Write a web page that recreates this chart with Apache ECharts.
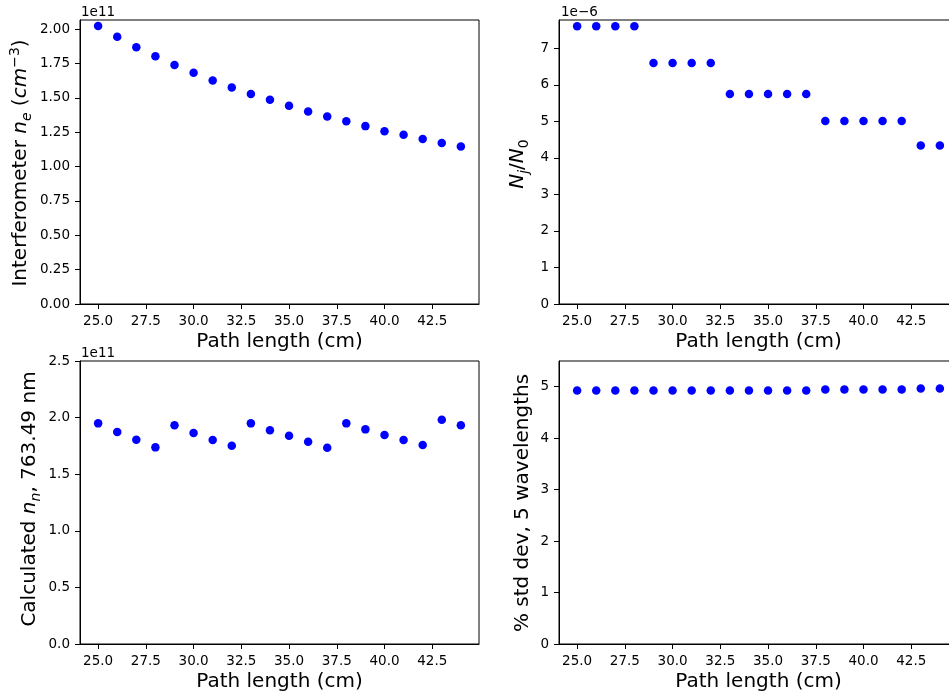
<!DOCTYPE html>
<html>
<head>
<meta charset="utf-8">
<script src="https://cdn.jsdelivr.net/npm/echarts@6/dist/echarts.min.js"></script>
<style>
html,body{margin:0;padding:0;background:#ffffff;}
#chart{width:949px;height:696px;}
</style>
</head>
<body>
<div id="chart"></div>
<script>
// ---------------- data ----------------
const pathLength = [25, 26, 27, 28, 29, 30, 31, 32, 33, 34, 35, 36, 37, 38, 39, 40, 41, 42, 43, 44];

const interferometerNe = [2.022e11, 1.944e11, 1.867e11, 1.803e11, 1.738e11, 1.682e11, 1.626e11, 1.575e11, 1.527e11, 1.485e11,
                          1.442e11, 1.400e11, 1.364e11, 1.330e11, 1.294e11, 1.257e11, 1.231e11, 1.201e11, 1.172e11, 1.146e11];

const ratioNjN0 = [7.61e-6, 7.61e-6, 7.61e-6, 7.61e-6, 6.60e-6, 6.60e-6, 6.60e-6, 6.60e-6, 5.75e-6, 5.75e-6,
                   5.75e-6, 5.75e-6, 5.75e-6, 5.01e-6, 5.01e-6, 5.01e-6, 5.01e-6, 5.01e-6, 4.34e-6, 4.34e-6];

const calculatedNn = [1.949e11, 1.873e11, 1.805e11, 1.737e11, 1.932e11, 1.864e11, 1.802e11, 1.752e11, 1.949e11, 1.888e11,
                      1.840e11, 1.787e11, 1.734e11, 1.949e11, 1.896e11, 1.846e11, 1.802e11, 1.758e11, 1.982e11, 1.932e11];

const stdDevPct = [4.925, 4.925, 4.925, 4.925, 4.925, 4.925, 4.925, 4.925, 4.925, 4.925,
                   4.925, 4.925, 4.925, 4.945, 4.945, 4.945, 4.945, 4.945, 4.965, 4.965];

// tick labels
const xTicks = [25, 27.5, 30, 32.5, 35, 37.5, 40, 42.5];
const neTicks = [0, 0.25e11, 0.5e11, 0.75e11, 1.0e11, 1.25e11, 1.5e11, 1.75e11, 2.0e11];
const ratioTicks = [0, 1e-6, 2e-6, 3e-6, 4e-6, 5e-6, 6e-6, 7e-6];
const nnTicks = [0, 0.5e11, 1.0e11, 1.5e11, 2.0e11, 2.5e11];
const stdTicks = [0, 1, 2, 3, 4, 5];

// ---------------- styling ----------------
const FONT = 'DejaVu Sans';
const TICK_FS = 13.5;
const LABEL_FS = 20;
const SUB_FS = 14;

const grids = [
  {left: 80,  top: 20,  width: 399, height: 284},
  {left: 559, top: 20,  width: 399, height: 284},
  {left: 80,  top: 361, width: 399, height: 283},
  {left: 559, top: 361, width: 399, height: 283}
];

function xAxisFor(i) {
  return {
    type: 'value', gridIndex: i, min: 24.05, max: 44.95,
    axisLine: {show: true, onZero: false, lineStyle: {color: '#000', width: 1}},
    axisTick: {show: true, inside: false, length: 5, lineStyle: {color: '#000', width: 1}, customValues: xTicks},
    axisLabel: {customValues: xTicks, formatter: v => Number(v).toFixed(1), margin: 10,
                color: '#000', fontSize: TICK_FS, fontFamily: FONT},
    splitLine: {show: false},
    name: 'Path length (cm)', nameLocation: 'middle', nameGap: 28,
    nameTextStyle: {fontSize: LABEL_FS, color: '#000', fontFamily: FONT}
  };
}

function yAxisFor(i, max, ticks, fmt) {
  return {
    type: 'value', gridIndex: i, min: 0, max: max,
    axisLine: {show: true, onZero: false, lineStyle: {color: '#000', width: 1}},
    axisTick: {show: true, inside: false, length: 5, lineStyle: {color: '#000', width: 1}, customValues: ticks},
    axisLabel: {customValues: ticks, formatter: fmt, margin: 10,
                color: '#000', fontSize: TICK_FS, fontFamily: FONT},
    splitLine: {show: false}
  };
}

function seriesFor(i, values) {
  return {
    type: 'scatter', xAxisIndex: i, yAxisIndex: i,
    data: pathLength.map((x, k) => [x, values[k]]),
    symbol: 'circle', symbolSize: 8.5,
    itemStyle: {color: '#0000ff', opacity: 1},
    emphasis: {disabled: true},
    animation: false
  };
}

const rich = {
  r:    {fontSize: LABEL_FS, fontFamily: FONT, lineHeight: 26, fill: '#000'},
  i:    {fontSize: LABEL_FS, fontFamily: FONT, fontStyle: 'italic', lineHeight: 26, fill: '#000'},
  isub: {fontSize: SUB_FS, fontFamily: FONT, fontStyle: 'italic', lineHeight: 14, verticalAlign: 'bottom', fill: '#000'},
  sub:  {fontSize: SUB_FS, fontFamily: FONT, lineHeight: 14, verticalAlign: 'bottom', fill: '#000'},
  sup:  {fontSize: SUB_FS, fontFamily: FONT, lineHeight: 12, verticalAlign: 'top', fill: '#000'}
};

function yName(x, y, text) {
  return {
    type: 'text', x: x, y: y, rotation: Math.PI / 2, silent: true,
    style: {text: text, rich: rich, fontSize: LABEL_FS, fontFamily: FONT, fill: '#000',
            align: 'center', verticalAlign: 'middle'}
  };
}

function offsetText(x, y, text) {
  return {
    type: 'text', x: x, y: y, silent: true,
    style: {text: text, fontSize: TICK_FS, fontFamily: FONT, fill: '#000', align: 'left', verticalAlign: 'middle'}
  };
}

const option = {
  animation: false,
  backgroundColor: '#ffffff',
  textStyle: {fontFamily: FONT},
  grid: grids.map(g => Object.assign({show: true, borderColor: '#000', borderWidth: 1,
                                      backgroundColor: 'transparent', containLabel: false,
                                      outerBoundsMode: 'none'}, g)),
  xAxis: [0, 1, 2, 3].map(xAxisFor),
  yAxis: [
    yAxisFor(0, 2.066e11, neTicks, v => (v / 1e11).toFixed(2)),
    yAxisFor(1, 7.78e-6, ratioTicks, v => String(Math.round(v * 1e6))),
    yAxisFor(2, 2.5e11, nnTicks, v => (v / 1e11).toFixed(1)),
    yAxisFor(3, 5.5, stdTicks, v => String(Math.round(v)))
  ],
  series: [
    seriesFor(0, interferometerNe),
    seriesFor(1, ratioNjN0),
    seriesFor(2, calculatedNn),
    seriesFor(3, stdDevPct)
  ],
  graphic: [
    yName(21, 163, '{r|Interferometer }{i|n}{isub|e}{r| (}{i|cm}{sup|\u22123}{r|)}'),
    yName(518, 164, '{i|N}{isub|j}{r|/}{i|N}{sub|0}'),
    yName(30, 499, '{r|Calculated }{i|n}{isub|n}{r|, 763.49 nm}'),
    yName(523, 503, '{r|% std dev, 5 wavelengths}'),
    offsetText(81, 12, '1e11'),
    offsetText(561, 12, '1e\u22126'),
    offsetText(81, 353, '1e11')
  ]
};

const chart = echarts.init(document.getElementById('chart'), null, {renderer: 'canvas'});
chart.setOption(option);
</script>
</body>
</html>
